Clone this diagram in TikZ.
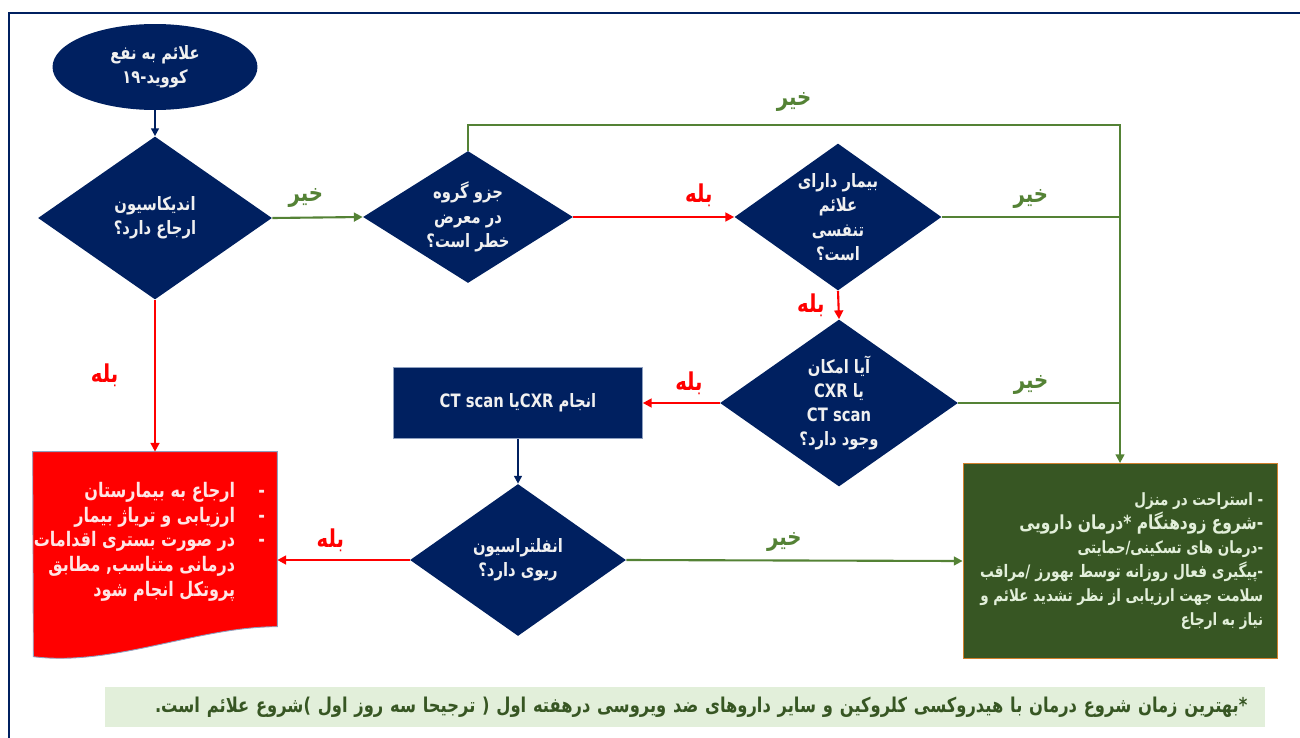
\documentclass[tikz,border=0pt]{standalone}
\usepackage{fontspec}
\setmainfont{DejaVu Sans}
\newfontfamily\fa[Script=Arabic,FakeStretch=0.8]{DejaVu Sans}
\newfontfamily\la[FakeStretch=0.8]{DejaVu Sans}
\usetikzlibrary{shapes.geometric,arrows.meta,positioning}
\TeXXeTstate=1
\definecolor{navy}{HTML}{002060}
\definecolor{leaf}{HTML}{548235}
\definecolor{moss}{HTML}{375623}
\definecolor{pale}{HTML}{E2EFDA}
\definecolor{rim}{HTML}{8EA0C0}
\newcommand{\lat}[1]{\beginL{\la #1}\endL}

\tikzset{
  dia/.style={diamond,fill=navy,inner sep=0pt},
  qtext/.style={text=gray!12,align=center,font=\fa\bfseries\fontsize{10.5}{13.8}\selectfont},
  yes/.style={text=red,font=\fa\bfseries\fontsize{14}{15}\selectfont},
  no/.style={text=leaf,font=\fa\bfseries\fontsize{14}{15}\selectfont},
  redarrow/.style={draw=red,line width=1.2pt,-{Triangle[length=5pt,width=5pt]}},
  greenline/.style={draw=leaf,line width=1.2pt},
  greenarrow/.style={greenline,-{Triangle[length=5pt,width=5pt]}},
  navyarrow/.style={draw=navy,line width=1pt,-{Triangle[length=4.5pt,width=4.5pt]}}
}

\begin{document}
\begin{tikzpicture}[x=0.02cm,y=-0.02cm]
\useasboundingbox (0,0) rectangle (1300,737);
\draw[navy,line width=1.4pt] (9,760) -- (9,13) -- (1320,13);

\node[ellipse,fill=navy,minimum width=4.1cm,minimum height=1.72cm,qtext] (start) at (155,67)
  {\beginR علائم به نفع\endR\\\beginR کووید-\lat{۱۹}\endR};
\node[dia,minimum width=4.68cm,minimum height=3.26cm,
  label={[qtext]center:{\beginR اندیکاسیون\endR\\\beginR ارجاع دارد؟\endR}}] (refer) at (155,218) {};
\node[dia,minimum width=4.2cm,minimum height=2.64cm,
  label={[qtext]center:{\beginR جزو گروه\endR\\\beginR در معرض\endR\\\beginR خطر است؟\endR}}] (risk) at (468,217) {};
\node[dia,minimum width=4.14cm,minimum height=2.94cm,
  label={[qtext]center:{\beginR بیمار دارای\endR\\\beginR علائم\endR\\\beginR تنفسی\endR\\\beginR است؟\endR}}] (breath) at (838,217) {};
\node[dia,minimum width=4.76cm,minimum height=3.34cm,
  label={[qtext]center:{\beginR آیا امکان\endR\\\beginR یا \lat{CXR}\endR\\\lat{CT scan}\\\beginR وجود دارد؟\endR}}] (access) at (839,403) {};
\node[fill=navy,draw=rim,minimum width=4.98cm,minimum height=1.42cm,qtext] (scan) at (518,403)
  {\beginR انجام \lat{CXR}یا \lat{CT scan}\endR};
\node[dia,minimum width=4.32cm,minimum height=3.04cm,
  label={[qtext]center:{\beginR انفلتراسیون\endR\\\beginR ریوی دارد؟\endR}}] (lung) at (518,560) {};

% red document
\node[minimum width=4.88cm,minimum height=4.32cm,inner sep=0pt] (doc) at (155,560) {};
\filldraw[fill=red,draw=rim,line width=0.5pt] (doc.north west) -- (doc.north east) -- ++(0,175)
  .. controls +(-80,0) and +(80,10) .. +(-244,30) -- cycle;
\node[below left=0.48cm and 0.12cm of doc.north east,anchor=north east,align=right,text=red!10,
  font=\fa\bfseries\fontsize{11.4}{14.2}\selectfont] (hospital)
  {\beginR\makebox[1.5em][l]{-}ارجاع به بیمارستان\endR\\
   \beginR\makebox[1.5em][l]{-}ارزیابی و تریاژ بیمار\endR\\
   \beginR\makebox[1.5em][l]{-}در صورت بستری اقدامات\endR\\
   \beginR\hspace*{1.5em}درمانی متناسب,  مطابق\endR\\
   \beginR\hspace*{1.5em}پروتکل انجام شود\endR};

% home care
\node[fill=moss,draw=brown!70!orange,line width=0.5pt,minimum width=6.28cm,minimum height=3.9cm] (care) at (1120,561) {};
\node[left=0.16cm of care.east,anchor=east,align=right,text=pale,
  font=\fa\bfseries\fontsize{9.6}{13.6}\selectfont] (caretext)
  {\beginR - استراحت در منزل\endR\\
   {\fontsize{11}{13.6}\selectfont\beginR -شروع زودهنگام *درمان  دارویی\endR}\\
   \beginR -درمان های تسکینی/حمایتی\endR\\
   {\fontsize{9.8}{13.6}\selectfont\beginR -پیگیری فعال روزانه توسط بهورز /مراقب\endR}\\
   \beginR سلامت جهت ارزیابی از نظر تشدید علائم و\endR\\
   \beginR نیاز به ارجاع\endR};

\node[fill=pale,minimum width=23.2cm,minimum height=0.8cm,text width=22.5cm,align=right,text=moss,
  font=\fa\bfseries\fontsize{11.6}{13}\selectfont] (note) at (685,707)
  {\beginR *بهترین زمان شروع درمان با  هیدروکسی کلروکین و سایر داروهای ضد ویروسی درهفته اول ( ترجیحا سه روز اول )شروع علائم است.\endR};

\draw[navyarrow] (start.south) -- (refer.north);
\draw[greenarrow] (refer.east) -- node[no,pos=0.37,above=2pt] (no1) {\beginR خیر\endR} (risk.west);
\draw[redarrow] (risk.east) -- node[yes,pos=0.78,above=2pt] (yes1) {\beginR بله\endR} (breath.west);
\coordinate (loop) at (1120,125);
\draw[greenarrow] (risk.north) |- node[no,pos=0.75,above=4pt] (no2) {\beginR خیر\endR} (loop) -- (care.north);
\draw[greenline] (breath.east) -- node[no,above=1pt] (no3) {\beginR خیر\endR} (breath.east -| loop);
\draw[redarrow] (breath.south) -- node[yes,left=4pt] (yes2) {\beginR بله\endR} (access.north);
\draw[greenline] (access.east) -- node[no,pos=0.45,above=1pt] (no4) {\beginR خیر\endR} (access.east -| loop);
\draw[redarrow] (access.west) -- node[yes,pos=0.4,above=1pt] (yes3) {\beginR بله\endR} (scan.east);
\draw[navyarrow] (scan.south) -- (lung.north);
\draw[redarrow] (refer.south) -- node[yes,left=17pt] (yes4) {\beginR بله\endR} (doc.north);
\draw[redarrow] (lung.west) -- node[yes,pos=0.6,above=1pt] (yes5) {\beginR بله\endR} (doc.east);
\draw[greenarrow] (lung.east) -- node[no,pos=0.47,above=1pt] (no5) {\beginR خیر\endR} (care.west);
\end{tikzpicture}
\end{document}
